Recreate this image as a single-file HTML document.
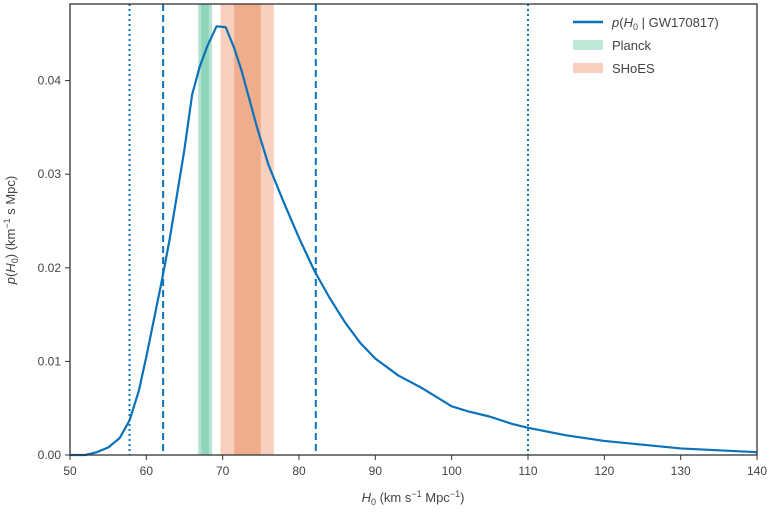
<!DOCTYPE html>
<html><head><meta charset="utf-8"><style>
body{margin:0;background:#fff}
svg text{font-family:"Liberation Sans","DejaVu Sans",sans-serif;fill:#444}
</style></head><body>
<svg id="chart" width="768" height="512" xmlns="http://www.w3.org/2000/svg">
<g id="bands"></g><g id="vlines"></g><g id="curve"></g><g id="axes"></g>
<g>
<line x1="573" y1="22" x2="603" y2="22" stroke="#0a72ba" stroke-width="2.5"/>
<text x="612" y="27" font-size="13"><tspan font-style="italic">p</tspan>(<tspan font-style="italic">H</tspan><tspan font-size="9" dy="3">0</tspan><tspan dy="-3"> | GW170817)</tspan></text>
<rect x="573" y="40" width="30" height="10" fill="#bfe8d8"/>
<text x="612" y="50" font-size="13">Planck</text>
<rect x="573" y="63" width="30" height="10" fill="#f8d0bd"/>
<text x="612" y="73" font-size="13">SHoES</text>
</g>
<text transform="translate(15,230) rotate(-90)" text-anchor="middle" font-size="13"><tspan font-style="italic">p</tspan>(<tspan font-style="italic">H</tspan><tspan font-size="9" dy="3">0</tspan><tspan dy="-3">) (km</tspan><tspan font-size="9" dy="-5">−1</tspan><tspan dy="5"> s Mpc)</tspan></text>
<text x="413" y="502" text-anchor="middle" font-size="13"><tspan font-style="italic">H</tspan><tspan font-size="9" dy="3">0</tspan><tspan dy="-3"> (km s</tspan><tspan font-size="9" dy="-5">−1</tspan><tspan dy="5"> Mpc</tspan><tspan font-size="9" dy="-5">−1</tspan><tspan dy="5">)</tspan></text>
</svg>
<script>
const xs=[50,52,53.5,55,56.5,57.8,59,60,61,62,63,64,65,66,67,68,69.2,70.4,71.5,72.5,73.5,74.5,76,78,80,82,84,86,88,90,93,96,98,100,102,105,108,110,115,120,125,130,135,140];
const ps=[0,0,0.0003,0.0008,0.0018,0.0037,0.0068,0.0105,0.0145,0.0185,0.0228,0.0277,0.0327,0.0385,0.0415,0.0437,0.0458,0.0457,0.0435,0.041,0.038,0.035,0.031,0.027,0.0232,0.0197,0.0168,0.0142,0.012,0.0103,0.0085,0.0072,0.0062,0.0052,0.0047,0.0041,0.0033,0.0029,0.0021,0.0015,0.0011,0.0007,0.0005,0.0003];
const xTicks=[50,60,70,80,90,100,110,120,130,140];
const yTicks=[0,0.01,0.02,0.03,0.04];
const yTickLabels=["0.00","0.01","0.02","0.03","0.04"];
const planck={lo:66.8,hi:68.6,ilo:67.2,ihi:68.2};
const shoes={lo:69.7,hi:76.7,ilo:71.5,ihi:75.0};
const dashed=[62.2,82.2];
const dotted=[57.8,110];
const L=70,R=757,T=4,B=455;
const X=v=>L+(v-50)/90*(R-L);
const Y=v=>B-v/0.01*93.6;
const NS="http://www.w3.org/2000/svg";
function mk(tag,attrs,parent){const e=document.createElementNS(NS,tag);for(const k in attrs)e.setAttribute(k,attrs[k]);document.getElementById(parent).appendChild(e);return e;}
function band(b,c1,c2,name){
 let e=mk('rect',{x:X(b.lo),y:T,width:X(b.hi)-X(b.lo),height:B-T,fill:c1},'bands');
 
 
 e=mk('rect',{x:X(b.ilo),y:T,width:X(b.ihi)-X(b.ilo),height:B-T,fill:c2},'bands');
 
 
}
band(planck,'#b3e3d0','#8fd5bb','planck');
band(shoes,'#f8d0bd','#f0ad8b','shoes');
dashed.forEach(v=>{const e=mk('line',{x1:X(v),x2:X(v),y1:T,y2:B,stroke:'#0a72ba','stroke-width':2,'stroke-dasharray':'7,4'},'vlines');
 
 });
dotted.forEach(v=>{const e=mk('line',{x1:X(v),x2:X(v),y1:T,y2:B,stroke:'#0a72ba','stroke-width':2,'stroke-dasharray':'2,3'},'vlines');
 
 });
const c=mk('polyline',{points:xs.map((x,i)=>X(x)+','+Y(ps[i])).join(' '),fill:'none',stroke:'#0a72ba','stroke-width':2.2,'stroke-linejoin':'round'},'curve');


const f=mk('rect',{x:L,y:T,width:R-L,height:B-T,fill:'none',stroke:'#333','stroke-width':1.3},'axes');


xTicks.forEach(v=>{mk('line',{x1:X(v),x2:X(v),y1:B,y2:B+5,stroke:'#333'},'axes');
 const t=mk('text',{x:X(v),y:B+20,'text-anchor':'middle','font-size':12},'axes');t.textContent=v;
 
 });
yTicks.forEach((v,i)=>{mk('line',{x1:L-5,x2:L,y1:Y(v),y2:Y(v),stroke:'#333'},'axes');
 const t=mk('text',{x:L-9,y:Y(v)+4,'text-anchor':'end','font-size':12},'axes');t.textContent=yTickLabels[i];
 
 });
</script>
</body></html>
